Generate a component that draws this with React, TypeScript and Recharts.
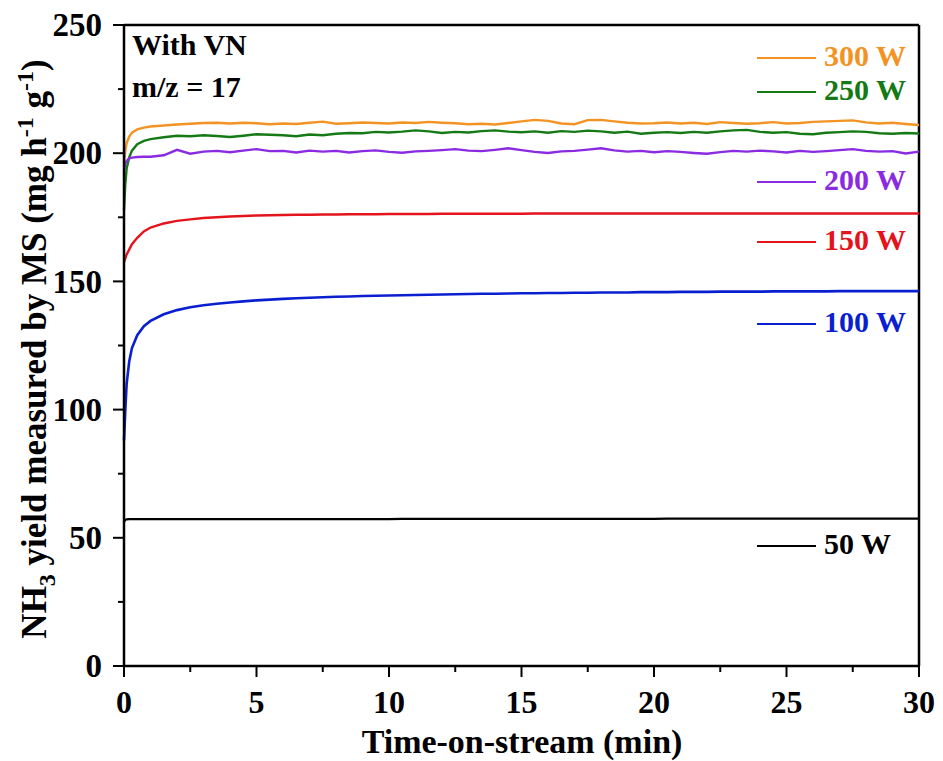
import { LineChart, Line, XAxis, YAxis, ReferenceLine, Customized } from 'recharts'

const times = [0, 0.05, 0.1, 0.2, 0.3, 0.5, 0.75, 1, 1.5, 2, 2.5, 3, 3.5, 4, 4.5, 5, 5.5, 6, 6.5, 7, 7.5, 8, 8.5, 9, 9.5, 10, 10.5, 11, 11.5, 12, 12.5, 13, 13.5, 14, 14.5, 15, 15.5, 16, 16.5, 17, 17.5, 18, 18.5, 19, 19.5, 20, 20.5, 21, 21.5, 22, 22.5, 23, 23.5, 24, 24.5, 25, 25.5, 26, 26.5, 27, 27.5, 28, 28.5, 29, 29.5, 30]

const w300 = [196, 201, 204, 206.5, 208, 209.3, 210, 210.4, 210.8, 211.2, 211.5, 211.8, 211.9, 211.6, 211.9, 211.7, 211.3, 211.6, 211.4, 211.9, 212.3, 211.5, 211.7, 212.0, 211.8, 211.6, 212.0, 211.8, 212.2, 211.9, 211.7, 211.3, 211.5, 211.2, 211.8, 212.4, 213.0, 212.6, 211.6, 211.3, 212.9, 213.0, 212.4, 211.9, 211.6, 211.7, 212.0, 211.6, 211.9, 211.4, 212.1, 211.8, 211.5, 211.7, 212.1, 211.6, 211.8, 212.2, 212.4, 212.6, 212.8, 212.0, 211.6, 211.9, 211.4, 211.0]
const w250 = [178, 188, 194, 198.5, 201, 203.5, 204.8, 205.5, 206.2, 206.8, 206.6, 207.0, 206.7, 206.3, 206.8, 207.4, 207.2, 207.0, 206.6, 207.3, 207.0, 207.6, 207.9, 207.8, 208.3, 208.1, 208.4, 208.9, 208.5, 207.9, 208.3, 208.1, 208.6, 208.9, 208.4, 208.2, 208.5, 208.0, 208.6, 208.3, 208.8, 208.5, 208.0, 208.4, 207.6, 208.0, 208.2, 207.9, 208.3, 208.0, 208.5, 208.9, 209.1, 208.3, 208.0, 208.2, 207.6, 207.4, 208.0, 208.2, 208.5, 208.3, 207.8, 207.6, 207.9, 207.7]
const w200 = [193, 196, 197, 198, 198.3, 198.5, 198.6, 198.6, 199.2, 201.3, 199.8, 200.6, 200.9, 200.4, 201.0, 201.6, 200.8, 200.9, 200.3, 201.0, 200.6, 200.9, 200.3, 200.8, 201.1, 200.5, 200.2, 200.7, 200.9, 201.2, 201.6, 201.0, 200.8, 201.3, 201.9, 201.2, 200.5, 200.1, 200.7, 200.9, 201.4, 201.9, 201.1, 200.6, 200.9, 200.4, 200.8, 200.5, 200.1, 199.8, 200.4, 200.9, 200.6, 201.0, 200.7, 200.3, 200.9, 200.5, 200.8, 201.2, 201.6, 200.9, 200.6, 200.8, 199.9, 200.6]
const w150 = [157.5, 159, 160.5, 162.5, 164.5, 167, 169.5, 171, 172.6, 173.6, 174.2, 174.7, 175.0, 175.3, 175.5, 175.7, 175.8, 175.9, 176.0, 176.0, 176.1, 176.1, 176.2, 176.2, 176.2, 176.3, 176.3, 176.3, 176.3, 176.4, 176.4, 176.4, 176.4, 176.4, 176.4, 176.4, 176.5, 176.5, 176.5, 176.5, 176.5, 176.5, 176.5, 176.5, 176.5, 176.5, 176.5, 176.5, 176.5, 176.5, 176.5, 176.5, 176.5, 176.5, 176.5, 176.5, 176.5, 176.5, 176.5, 176.5, 176.5, 176.5, 176.5, 176.5, 176.5, 176.5]
const w100 = [88, 100, 110, 119, 124, 129, 132.5, 134.6, 137.2, 138.8, 139.9, 140.7, 141.3, 141.8, 142.2, 142.6, 142.9, 143.2, 143.4, 143.6, 143.8, 144.0, 144.1, 144.3, 144.4, 144.5, 144.6, 144.7, 144.8, 144.9, 145.0, 145.1, 145.2, 145.2, 145.3, 145.4, 145.4, 145.5, 145.5, 145.6, 145.6, 145.7, 145.7, 145.7, 145.8, 145.8, 145.8, 145.9, 145.9, 145.9, 146.0, 146.0, 146.0, 146.0, 146.1, 146.1, 146.1, 146.1, 146.1, 146.2, 146.2, 146.2, 146.2, 146.2, 146.2, 146.2]
const w50 = [56.2, 57.0, 57.2, 57.3, 57.3, 57.3, 57.3, 57.3, 57.3, 57.3, 57.3, 57.3, 57.3, 57.3, 57.3, 57.3, 57.3, 57.3, 57.3, 57.3, 57.3, 57.3, 57.3, 57.3, 57.3, 57.3, 57.4, 57.4, 57.4, 57.4, 57.4, 57.4, 57.4, 57.4, 57.4, 57.4, 57.4, 57.4, 57.4, 57.4, 57.4, 57.4, 57.4, 57.4, 57.4, 57.4, 57.5, 57.5, 57.5, 57.5, 57.5, 57.5, 57.5, 57.5, 57.5, 57.5, 57.5, 57.5, 57.5, 57.5, 57.5, 57.5, 57.5, 57.5, 57.5, 57.5]

const xTicks = [0, 2.5, 5, 7.5, 10, 12.5, 15, 17.5, 20, 22.5, 25, 27.5, 30]
const yTicks = [0, 25, 50, 75, 100, 125, 150, 175, 200, 225, 250]

const series = [
	{ key: 'w300', name: '300 W', color: '#F39323', width: 2.4, legendY: 58 },
	{ key: 'w250', name: '250 W', color: '#157A15', width: 2.4, legendY: 92 },
	{ key: 'w200', name: '200 W', color: '#8A2BE2', width: 2.4, legendY: 182 },
	{ key: 'w150', name: '150 W', color: '#E3141C', width: 2.4, legendY: 242 },
	{ key: 'w100', name: '100 W', color: '#0A1FD0', width: 2.6, legendY: 324 },
	{ key: 'w50', name: '50 W', color: '#000000', width: 2.2, legendY: 546 },
]

const data = times.map((t, i) => ({
	t,
	w300: w300[i],
	w250: w250[i],
	w200: w200[i],
	w150: w150[i],
	w100: w100[i],
	w50: w50[i],
}))

const font = '"Liberation Serif", "Times New Roman", serif'

function XTick({ x, y, payload }: any) {
	const major = payload.value % 5 === 0
	return (
		<g>
			<line x1={x} x2={x} y1={y} y2={y + (major ? 11 : 6)} stroke="#000" strokeWidth={2} />
			{major && (
				<text x={x} y={y + 47} textAnchor="middle" fontFamily={font} fontWeight="bold" fontSize={32} fill="#000">
					{payload.value}
				</text>
			)}
		</g>
	)
}

function YTick({ x, y, payload }: any) {
	const major = payload.value % 50 === 0
	return (
		<g>
			<line x1={x} x2={x - (major ? 11 : 6)} y1={y} y2={y} stroke="#000" strokeWidth={2} />
			{major && (
				<text x={x - 22} y={y} dy="0.34em" textAnchor="end" fontFamily={font} fontWeight="bold" fontSize={33} fill="#000">
					{payload.value}
				</text>
			)}
		</g>
	)
}

function Overlay() {
	return (
		<g fontFamily={font} fontWeight="bold">
			<text x={132} y={55} fontSize={30} fill="#000">With VN</text>
			<text x={132} y={97} fontSize={30} fill="#000">m/z = 17</text>
			{series.map((s) => (
				<g key={s.key}>
					<line x1={757} x2={816} y1={s.legendY} y2={s.legendY} stroke={s.color} strokeWidth={2} />
					<text x={824} y={s.legendY + 8} fontSize={30} fill={s.color}>{s.name}</text>
				</g>
			))}
			<text x={522} y={753} textAnchor="middle" fontSize={34} fill="#000">Time-on-stream (min)</text>
			<text transform="translate(46, 349) rotate(-90)" textAnchor="middle" fontSize={35} fill="#000">
				NH<tspan dy={9} fontSize={24}>3</tspan>
				<tspan dy={-9}> yield measured by MS (mg h</tspan>
				<tspan dy={-13} fontSize={24}>-1</tspan>
				<tspan dy={13}> g</tspan>
				<tspan dy={-13} fontSize={24}>-1</tspan>
				<tspan dy={13}>)</tspan>
			</text>
		</g>
	)
}

export default function App() {
	return (
		<div style={{ position: 'absolute', left: 0, top: 0, background: '#fff' }}>
			<LineChart width={943} height={761} data={data} margin={{ top: 25, right: 24, left: 0, bottom: 0 }}>
				<XAxis
					dataKey="t"
					type="number"
					domain={[0, 30]}
					ticks={xTicks}
					interval={0}
					height={95}
					tickSize={0}
					tickMargin={0}
					tickLine={false}
					tick={<XTick />}
					axisLine={{ stroke: '#000', strokeWidth: 2.5 }}
				/>
				<YAxis
					type="number"
					domain={[0, 250]}
					ticks={yTicks}
					interval={0}
					width={124}
					tickSize={0}
					tickMargin={0}
					tickLine={false}
					tick={<YTick />}
					axisLine={{ stroke: '#000', strokeWidth: 2.5 }}
				/>
				<ReferenceLine y={250} stroke="#000" strokeWidth={2.5} />
				<ReferenceLine x={30} stroke="#000" strokeWidth={2.5} />
				{series.map((s) => (
					<Line
						key={s.key}
						dataKey={s.key}
						type="linear"
						stroke={s.color}
						strokeWidth={s.width}
						dot={false}
						activeDot={false}
						isAnimationActive={false}
					/>
				))}
				<Customized component={Overlay} />
			</LineChart>
		</div>
	)
}
